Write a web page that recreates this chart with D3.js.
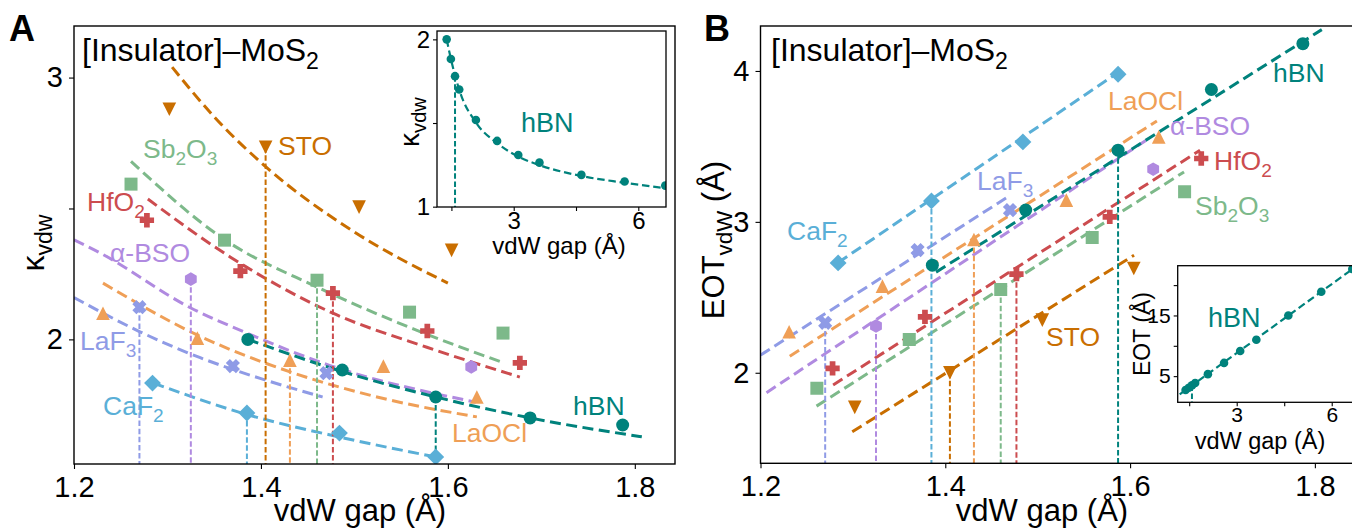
<!DOCTYPE html>
<html><head><meta charset="utf-8">
<script src="https://cdn.jsdelivr.net/npm/d3@7"></script>
<style>body{margin:0;background:#fff;} svg{display:block;}</style>
</head><body><svg id="chart" width="1352" height="529"></svg>
<script>
const FONT = '"Liberation Sans", Arial, Helvetica, sans-serif';

// ---------------- DATA ----------------
const materials = ["STO", "Sb2O3", "HfO2", "α-BSO", "LaF3", "LaOCl", "CaF2", "hBN"];
const colors = ["#c96e00", "#7db98a", "#cc4c4f", "#b08ae0", "#8f9be6", "#ef9f57", "#5aafd7", "#00827c"];
const shapes = ["triDown", "square", "plus", "hexagon", "xcross", "triUp", "diamond", "circle"];

// vdW gap (Å), kappa_vdw, EOT_vdW (Å)
const gapSTO = [1.302, 1.405, 1.505, 1.604];
const kappaSTO = [2.879, 2.734, 2.505, 2.34];
const eotSTO = [1.771, 2.0, 2.349, 2.691];
const gapSb2O3 = [1.261, 1.361, 1.46, 1.559, 1.659];
const kappaSb2O3 = [2.593, 2.379, 2.226, 2.104, 2.024];
const eotSb2O3 = [1.897, 2.221, 2.552, 2.897, 3.199];
const gapHfO2 = [1.278, 1.378, 1.477, 1.578, 1.677];
const kappaHfO2 = [2.455, 2.261, 2.177, 2.032, 1.91];
const eotHfO2 = [2.029, 2.371, 2.654, 3.033, 3.42];
const gapBSO = [1.325, 1.625];
const kappaBSO = [2.23, 1.895];
const eotBSO = [2.31, 3.349];
const gapLaF3 = [1.27, 1.37, 1.47];
const kappaLaF3 = [2.123, 1.898, 1.871];
const eotLaF3 = [2.331, 2.813, 3.078];
const gapLaOCl = [1.231, 1.332, 1.431, 1.531, 1.631];
const kappaLaOCl = [2.1, 2.005, 1.921, 1.898, 1.78];
const eotLaOCl = [2.272, 2.574, 2.883, 3.144, 3.563];
const gapCaF2 = [1.284, 1.385, 1.484, 1.587];
const kappaCaF2 = [1.833, 1.719, 1.642, 1.551];
const eotCaF2 = [2.728, 3.139, 3.53, 3.978];
const gapHBN = [1.386, 1.487, 1.587, 1.688, 1.787];
const kappaHBN = [2.0, 1.883, 1.78, 1.70, 1.673];
const eotHBN = [2.713, 3.078, 3.475, 3.877, 4.181];
// index of the point that gets a drop line
const dropIndex = [1, 2, 2, 0, 0, 2, 1, 2];

// fitted curves, panel A (gap, kappa)
const fitA_STO = [[1.305, 3.04], [1.35, 2.85], [1.405, 2.66], [1.5, 2.41], [1.6, 2.215]];
const fitA_Sb2O3 = [[1.261, 2.68], [1.3615, 2.38], [1.46, 2.2], [1.563, 2.04], [1.66, 1.91]];
const fitA_HfO2 = [[1.279, 2.536], [1.367, 2.315], [1.477, 2.1], [1.5775, 1.97], [1.677, 1.856]];
const fitA_BSO = [[1.2, 2.38], [1.228, 2.33], [1.325, 2.12], [1.385, 2.024], [1.474, 1.9], [1.63, 1.76]];
const fitA_LaF3 = [[1.2, 2.16], [1.27, 2.03], [1.335, 1.93], [1.4, 1.85], [1.466, 1.78]];
const fitA_LaOCl = [[1.231, 2.215], [1.33, 2.02], [1.432, 1.875], [1.53, 1.775], [1.631, 1.704]];
const fitA_CaF2 = [[1.285, 1.833], [1.385, 1.713], [1.484, 1.627], [1.587, 1.551]];
const fitA_HBN = [[1.386, 2.0], [1.487, 1.877], [1.587, 1.78], [1.688, 1.70], [1.8075, 1.628]];

// fitted lines, panel B (gap, EOT)
const fitB_STO = [[1.2993, 1.609], [1.6043, 2.779]];
const fitB_Sb2O3 = [[1.2606, 1.779], [1.6584, 3.331]];
const fitB_HfO2 = [[1.2786, 1.919], [1.6757, 3.475]];
const fitB_BSO = [[1.2065, 1.868], [1.617, 3.54]];
const fitB_LaF3 = [[1.2, 2.117], [1.467, 3.163]];
const fitB_LaOCl = [[1.2317, 2.11], [1.629, 3.669]];
const fitB_CaF2 = [[1.284, 2.73], [1.587, 3.99]];
const fitB_HBN = [[1.39, 2.667], [1.8075, 4.274]];

// hBN insets
const insetGap = [1.386, 1.487, 1.587, 1.688, 2.09, 2.6, 3.11, 3.62, 4.63, 5.67, 6.65];
const insetKappa = [2.0, 1.883, 1.78, 1.70, 1.518, 1.393, 1.309, 1.263, 1.19, 1.15, 1.126];
const insetEOT = [2.71, 3.08, 3.475, 3.88, 5.33, 7.18, 9.15, 11.0, 15.0, 18.9, 22.66];
const insetFitAx = [1.386, 1.5, 1.7, 2.1, 2.6, 3.1, 3.6, 4.6, 5.6, 6.67];
const insetFitAy = [2.0, 1.87, 1.69, 1.5, 1.38, 1.3, 1.25, 1.185, 1.145, 1.11];
const insetFitB = [[1.2, 2.0], [6.75, 23.0]];
const insetDropGap = 1.587;

// ticks
const xTicksMain = [1.2, 1.4, 1.6, 1.8];
const yTicksA = [2, 2.5, 3];
const yTicksB = [2, 3, 4];
const xTicksInset = [1.5, 3, 4.5, 6];
const yTicksInsetA = [1, 1.5, 2];
const yTicksInsetB = [5, 10, 15, 20];

const gaps = [gapSTO, gapSb2O3, gapHfO2, gapBSO, gapLaF3, gapLaOCl, gapCaF2, gapHBN];
const kappas = [kappaSTO, kappaSb2O3, kappaHfO2, kappaBSO, kappaLaF3, kappaLaOCl, kappaCaF2, kappaHBN];
const eots = [eotSTO, eotSb2O3, eotHfO2, eotBSO, eotLaF3, eotLaOCl, eotCaF2, eotHBN];
const fitsA = [fitA_STO, fitA_Sb2O3, fitA_HfO2, fitA_BSO, fitA_LaF3, fitA_LaOCl, fitA_CaF2, fitA_HBN];
const fitsB = [fitB_STO, fitB_Sb2O3, fitB_HfO2, fitB_BSO, fitB_LaF3, fitB_LaOCl, fitB_CaF2, fitB_HBN];

const series = materials.map((m, i) => ({
  name: m, color: colors[i], shape: shapes[i], drop: dropIndex[i],
  pts: gaps[i].map((g, j) => ({gap: g, kappa: kappas[i][j], eot: eots[i][j]})),
  fitA: fitsA[i], fitB: fitsB[i]
}));

// ---------------- HELPERS ----------------
const svg = d3.select("#chart").attr("font-family", FONT);

function rich(parent, x, y, parts, size, fill, opts = {}) {
  const t = parent.append("text").attr("x", x).attr("y", y)
    .attr("font-size", size).attr("fill", fill);
  if (opts.anchor) t.attr("text-anchor", opts.anchor);
  if (opts.rotate) t.attr("transform", `rotate(${opts.rotate},${x},${y})`);
  if (opts.weight) t.attr("font-weight", opts.weight);
  let cur = 0;
  parts.forEach(p => {
    const [s, type] = Array.isArray(p) ? p : [p, 0];
    const target = type === 1 ? size * 0.26 : 0;
    const ts = t.append("tspan").text(s).attr("dy", target - cur);
    if (type === 1) ts.attr("font-size", size * 0.72);
    cur = target;
  });
  return t;
}

function markerPath(shape, m) {
  const h = m / 2;
  switch (shape) {
    case "square": return `M${-h},${-h}H${h}V${h}H${-h}Z`;
    case "diamond": { const d = h * 1.3; return `M0,${-d}L${d},0L0,${d}L${-d},0Z`; }
    case "triUp": return `M0,${-h * 1.05}L${h * 1.05},${h * 1.05}L${-h * 1.05},${h * 1.05}Z`;
    case "triDown": return `M0,${h * 1.05}L${h * 1.05},${-h * 1.05}L${-h * 1.05},${-h * 1.05}Z`;
    case "hexagon": {
      const r = h * 1.05;
      return d3.range(6).map(k => { const a = -Math.PI / 2 + k * Math.PI / 3; return (k ? "L" : "M") + (r * Math.cos(a)) + "," + (r * Math.sin(a)); }).join("") + "Z";
    }
    case "plus": case "xcross": {
      const u = m / 6 * 1.1;
      let v = [[-1.2, -3], [1.2, -3], [1.2, -1.2], [3, -1.2], [3, 1.2], [1.2, 1.2], [1.2, 3], [-1.2, 3], [-1.2, 1.2], [-3, 1.2], [-3, -1.2], [-1.2, -1.2]];
      if (shape === "xcross") { const c = Math.SQRT1_2; v = v.map(([a, b]) => [(a - b) * c, (a + b) * c]); }
      return v.map((p, k) => (k ? "L" : "M") + p[0] * u + "," + p[1] * u).join("") + "Z";
    }
    default: return d3.symbol(d3.symbolCircle, Math.PI * h * h)();
  }
}

function axisStyle(g, fontSize) {
  g.select(".domain").remove();
  g.selectAll(".tick line").attr("stroke", "#000").attr("stroke-width", 1.1);
  g.selectAll(".tick text").attr("font-size", fontSize).attr("fill", "#000").attr("font-family", FONT);
}

// ---------------- PANEL FACTORY ----------------
function panel(opts) {
  const {left, top, right, bottom, x, y, yKey, fitKey, fitCurve, xTicks, yTicks, yFmt, clipId} = opts;
  const g = svg.append("g");
  svg.append("defs").append("clipPath").attr("id", clipId)
    .append("rect").attr("x", left).attr("y", top).attr("width", right - left).attr("height", bottom - top);
  const plot = g.append("g").attr("clip-path", `url(#${clipId})`);

  series.forEach(s => {
    const line = d3.line().x(d => x(d[0])).y(d => y(d[1]));
    if (fitCurve) line.curve(d3.curveMonotoneX);
    plot.append("path").attr("d", line(s[fitKey])).attr("fill", "none")
      .attr("stroke", s.color).attr("stroke-width", 3).attr("stroke-dasharray", "11,5.5");
  });
  series.forEach(s => {
    const p = s.pts[s.drop];
    plot.append("line").attr("x1", x(p.gap)).attr("x2", x(p.gap))
      .attr("y1", y(p[yKey])).attr("y2", bottom)
      .attr("stroke", s.color).attr("stroke-width", 2).attr("stroke-dasharray", "5.5,2.6");
  });
  series.forEach(s => {
    plot.selectAll(null).data(s.pts).enter().append("path")
      .attr("transform", d => `translate(${x(d.gap)},${y(d[yKey])})`)
      .attr("d", markerPath(s.shape, 13)).attr("fill", s.color);
  });

  g.append("rect").attr("x", left).attr("y", top).attr("width", right - left).attr("height", bottom - top)
    .attr("fill", "none").attr("stroke", "#000").attr("stroke-width", 1.4);

  const gx = g.append("g").attr("transform", `translate(0,${bottom})`)
    .call(d3.axisBottom(x).tickValues(xTicks).tickSize(5).tickPadding(7).tickFormat(d3.format(".1f")));
  axisStyle(gx, 29);
  const gy = g.append("g").attr("transform", `translate(${left},0)`)
    .call(d3.axisLeft(y).tickValues(yTicks).tickSize(5).tickPadding(6).tickFormat(yFmt));
  axisStyle(gy, 29);
  return g;
}

function inset(opts) {
  const {left, top, right, bottom, x, y, pts, fit, fitCurve, dropY, xTicks, yTicks, yFmt, clipId, fs} = opts;
  const g = svg.append("g");
  g.append("rect").attr("x", left).attr("y", top).attr("width", right - left).attr("height", bottom - top).attr("fill", "#fff");
  svg.append("defs").append("clipPath").attr("id", clipId)
    .append("rect").attr("x", left).attr("y", top).attr("width", right - left).attr("height", bottom - top);
  const plot = g.append("g").attr("clip-path", `url(#${clipId})`);
  const c = colors[7];
  const line = d3.line().x(d => x(d[0])).y(d => y(d[1]));
  if (fitCurve) line.curve(d3.curveMonotoneX);
  plot.append("path").attr("d", line(fit)).attr("fill", "none").attr("stroke", c)
    .attr("stroke-width", 2.2).attr("stroke-dasharray", "7.5,3.8");
  plot.append("line").attr("x1", x(insetDropGap)).attr("x2", x(insetDropGap))
    .attr("y1", y(dropY)).attr("y2", bottom).attr("stroke", c).attr("stroke-width", 2).attr("stroke-dasharray", "5.5,2.6");
  plot.selectAll(null).data(pts).enter().append("circle")
    .attr("cx", d => x(d[0])).attr("cy", d => y(d[1])).attr("r", 4.3).attr("fill", c);
  g.append("rect").attr("x", left).attr("y", top).attr("width", right - left).attr("height", bottom - top)
    .attr("fill", "none").attr("stroke", "#000").attr("stroke-width", 1.3);
  const gx = g.append("g").attr("transform", `translate(0,${bottom})`)
    .call(d3.axisBottom(x).tickValues(xTicks).tickSize(4).tickPadding(1).tickFormat(d => (d === 3 || d === 6) ? d : ""));
  axisStyle(gx, fs);
  const gy = g.append("g").attr("transform", `translate(${left},0)`)
    .call(d3.axisLeft(y).tickValues(yTicks).tickSize(4).tickPadding(3).tickFormat(yFmt));
  axisStyle(gy, fs);
  return g;
}

// ---------------- PANEL A ----------------
const xA = d3.scaleLinear().domain([1.2, 1.843]).range([74, 675]);
const yA = d3.scaleLinear().domain([1.524, 3.197]).range([464, 26]);
panel({left: 74, top: 26, right: 675, bottom: 464, x: xA, y: yA, yKey: "kappa", fitKey: "fitA", fitCurve: true,
  xTicks: xTicksMain, yTicks: yTicksA, yFmt: d => d === 2.5 ? "" : d, clipId: "clipA"});

// ---------------- PANEL B ----------------
const xB = d3.scaleLinear().domain([1.2, 1.851]).range([760.5, 1362]);
const yB = d3.scaleLinear().domain([1.4, 4.298]).range([463.3, 26]);
panel({left: 760.5, top: 26, right: 1362, bottom: 463.3, x: xB, y: yB, yKey: "eot", fitKey: "fitB", fitCurve: false,
  xTicks: xTicksMain, yTicks: yTicksB, yFmt: d => d, clipId: "clipB"});

// ---------------- INSETS ----------------
const xIA = d3.scaleLinear().domain([1.153, 6.667]).range([437, 666]);
const yIA = d3.scaleLinear().domain([0.998, 2.05]).range([207, 31]);
inset({left: 437, top: 31, right: 666, bottom: 207, x: xIA, y: yIA, fs: 24,
  pts: insetGap.map((g, i) => [g, insetKappa[i]]), fit: insetFitAx.map((g, i) => [g, insetFitAy[i]]), fitCurve: true,
  dropY: insetKappa[2], xTicks: xTicksInset, yTicks: yTicksInsetA, yFmt: d => d === 1.5 ? "" : d, clipId: "clipIA"});

const xIB = d3.scaleLinear().domain([1.137, 6.956]).range([1177.7, 1362]);
const yIB = d3.scaleLinear().domain([0.69, 23.2]).range([402.3, 265.7]);
inset({left: 1177.7, top: 265.7, right: 1362, bottom: 402.3, x: xIB, y: yIB, fs: 21,
  pts: insetGap.map((g, i) => [g, insetEOT[i]]), fit: insetFitB, fitCurve: false,
  dropY: insetEOT[2], xTicks: xTicksInset, yTicks: yTicksInsetB, yFmt: d => (d === 5 || d === 15) ? d : "", clipId: "clipIB"});

// ---------------- TEXT ----------------
const T = svg.append("g");
const LS = 26.5;
rich(T, 9, 41, ["A"], 36, "#000", {weight: "bold"});
rich(T, 704, 41, ["B"], 36, "#000", {weight: "bold"});
rich(T, 82, 61, ["[Insulator]–MoS", ["2", 1]], 32, "#000");
rich(T, 771, 61, ["[Insulator]–MoS", ["2", 1]], 32, "#000");
// axis labels
rich(T, 360, 521, ["vdW gap (Å)"], 31, "#000", {anchor: "middle"});
rich(T, 1042, 521, ["vdW gap (Å)"], 31, "#000", {anchor: "middle"});
rich(T, 44, 243, ["κ", ["vdw", 1]], 32, "#000", {anchor: "middle", rotate: -90});
rich(T, 724, 240, ["EOT", ["vdW", 1], " (Å)"], 31, "#000", {anchor: "middle", rotate: -90});
// inset labels
rich(T, 419, 122, ["κ", ["vdw", 1]], 28, "#000", {anchor: "middle", rotate: -90});
rich(T, 559, 254, ["vdW gap (Å)"], 24, "#000", {anchor: "middle"});
rich(T, 521, 132, ["hBN"], 27, colors[7]);
rich(T, 1150, 334, ["EOT (Å)"], 23, "#000", {anchor: "middle", rotate: -90});
rich(T, 1260, 449, ["vdW gap (Å)"], 23.5, "#000", {anchor: "middle"});
rich(T, 1208, 327, ["hBN"], 27, colors[7]);

// material labels panel A
rich(T, 278, 155, ["STO"], LS, colors[0]);
rich(T, 143, 158, ["Sb", ["2", 1], "O", ["3", 1]], LS, colors[1]);
rich(T, 87, 211, ["HfO", ["2", 1]], LS, colors[2]);
rich(T, 110, 262, ["α-BSO"], LS, colors[3]);
rich(T, 80, 350, ["LaF", ["3", 1]], LS, colors[4]);
rich(T, 452, 442, ["LaOCl"], LS, colors[5]);
rich(T, 103, 415, ["CaF", ["2", 1]], LS, colors[6]);
rich(T, 573, 415, ["hBN"], LS, colors[7]);

// material labels panel B
rich(T, 1046, 346, ["STO"], LS, colors[0]);
rich(T, 1195, 215, ["Sb", ["2", 1], "O", ["3", 1]], LS, colors[1]);
rich(T, 1214, 170, ["HfO", ["2", 1]], LS, colors[2]);
rich(T, 1170, 135, ["α-BSO"], LS, colors[3]);
rich(T, 977, 190, ["LaF", ["3", 1]], LS, colors[4]);
rich(T, 1108, 110, ["LaOCl"], LS, colors[5]);
rich(T, 787, 240, ["CaF", ["2", 1]], LS, colors[6]);
rich(T, 1273, 82, ["hBN"], LS, colors[7]);
</script>
</body></html>
